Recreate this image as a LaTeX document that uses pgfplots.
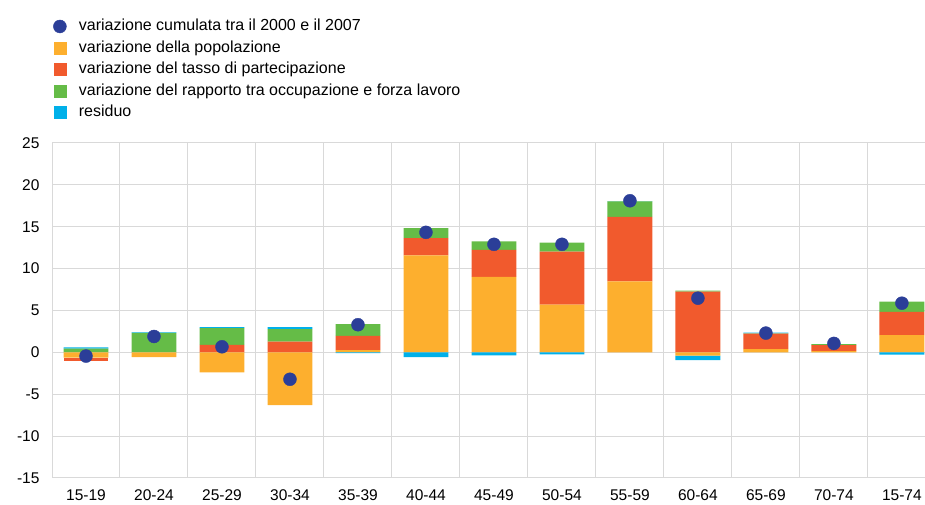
\documentclass[border=0pt]{standalone}
\usepackage{fontspec}
\setmainfont{Liberation Sans}
\usepackage{pgfplots}
\usepackage{pgfplotstable}
\pgfplotsset{compat=1.18}
\definecolor{cNavy}{HTML}{2B3E98}
\definecolor{cOrange}{HTML}{FDAF2E}
\definecolor{cRed}{HTML}{F15A2D}
\definecolor{cGreen}{HTML}{65BC47}
\definecolor{cCyan}{HTML}{00B0E9}
\definecolor{cGrid}{HTML}{D9D9D9}

% o = popolazione, r = tasso di partecipazione, g = occupazione/forza lavoro, c = residuo, tot = variazione cumulata
\pgfplotstableread{
x o r g c tot
0 -0.63 -0.44 0.44 0.16 -0.44
1 -0.56 0.00 2.34 0.05 1.90
2 -2.38 0.91 1.98 0.12 0.67
3 -6.31 1.27 1.51 0.24 -3.21
4 0.28 1.70 1.39 -0.10 3.30
5 11.59 2.06 1.19 -0.56 14.33
6 9.00 3.25 0.99 -0.36 12.90
7 5.71 6.31 1.07 -0.24 12.90
8 8.49 7.70 1.83 0.05 18.10
9 -0.40 7.26 0.12 -0.52 6.47
10 0.40 1.83 0.03 0.10 2.30
11 0.16 0.71 0.12 0.00 1.07
12 2.06 2.78 1.23 -0.28 5.87
}\data

\pgfplotsset{
  base/.style={
    at={(52pt,27pt)}, anchor=south west, scale only axis,
    width=873pt, height=335pt,
    xmin=-0.5, xmax=12.34, ymin=-15, ymax=25,
  },
  hid/.style={base, hide axis},
}

\begin{document}
\begin{tikzpicture}
\useasboundingbox (0,0) rectangle (925pt,505pt);

% positive parts + grid
\begin{axis}[base,
  ybar stacked, bar width=0.66,
  axis line style={draw=none},
  ytick={-15,-10,...,25},
  xtick={0,...,12},
  xticklabels={15-19,20-24,25-29,30-34,35-39,40-44,45-49,50-54,55-59,60-64,65-69,70-74,15-74},
  minor xtick={-0.5,0.5,...,11.5},
  xmajorgrids=false, xminorgrids=true, ymajorgrids=true,
  grid style={cGrid, line width=1pt},
  minor grid style={cGrid, line width=1pt},
  major tick length=0pt, minor tick length=0pt,
  tick label style={font=\fontsize{15.5}{18}\selectfont},
  /pgf/number format/assume math mode=true,
  yticklabel style={xshift=-9pt},
  xticklabel style={yshift=-8pt},
]
\addplot[fill=cOrange, draw=none] table[x=x, y expr={max(\thisrow{o},0)}] {\data};
\addplot[fill=cRed, draw=none] table[x=x, y expr={max(\thisrow{r},0)}] {\data};
\addplot[fill=cGreen, draw=none] table[x=x, y expr={max(\thisrow{g},0)}] {\data};
\addplot[fill=cCyan, draw=none] table[x=x, y expr={max(\thisrow{c},0)}] {\data};
\end{axis}

% negative parts
\begin{axis}[hid, ybar stacked, bar width=0.66]
\addplot[fill=cOrange, draw=none] table[x=x, y expr={min(\thisrow{o},0)}] {\data};
\addplot[fill=cRed, draw=none] table[x=x, y expr={min(\thisrow{r},0)}] {\data};
\addplot[fill=cGreen, draw=none] table[x=x, y expr={min(\thisrow{g},0)}] {\data};
\addplot[fill=cCyan, draw=none] table[x=x, y expr={min(\thisrow{c},0)}] {\data};
\end{axis}

% cumulative change dots + legend
\begin{axis}[hid,
  legend cell align=left,
  legend style={at={(0,1.382)}, anchor=north west, xshift=-2pt, yshift=1.5pt,
    draw=none, fill=none,
    font=\fontsize{16}{19}\selectfont, row sep=0pt,
    nodes={text height=12pt, text depth=3.5pt, inner ysep=3pt}},
]
\addplot[only marks, mark=*, mark size=6.5pt, color=cNavy,
  legend image code/.code={\fill[cNavy] (6pt,0pt) circle (6.5pt); \path[draw=none,fill=none] (0pt,0pt) rectangle (23pt,0.1pt);}]
  table[x=x, y=tot] {\data};
\addlegendentry{variazione cumulata tra il 2000 e il 2007}
\addlegendimage{legend image code/.code={\fill[cOrange] (0pt,-6pt) rectangle (12pt,6pt); \path[draw=none,fill=none] (0pt,0pt) rectangle (23pt,0.1pt);}}
\addlegendentry{variazione della popolazione}
\addlegendimage{legend image code/.code={\fill[cRed] (0pt,-6pt) rectangle (12pt,6pt); \path[draw=none,fill=none] (0pt,0pt) rectangle (23pt,0.1pt);}}
\addlegendentry{variazione del tasso di partecipazione}
\addlegendimage{legend image code/.code={\fill[cGreen] (0pt,-6pt) rectangle (12pt,6pt); \path[draw=none,fill=none] (0pt,0pt) rectangle (23pt,0.1pt);}}
\addlegendentry{variazione del rapporto tra occupazione e forza lavoro}
\addlegendimage{legend image code/.code={\fill[cCyan] (0pt,-6pt) rectangle (12pt,6pt); \path[draw=none,fill=none] (0pt,0pt) rectangle (23pt,0.1pt);}}
\addlegendentry{residuo}
\end{axis}
\end{tikzpicture}
\end{document}
